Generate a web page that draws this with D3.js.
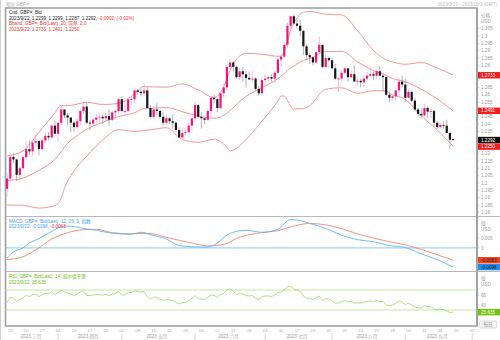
<!DOCTYPE html>
<html><head><meta charset="utf-8">
<script src="https://cdn.jsdelivr.net/npm/d3@7"></script>
<style>
body{margin:0;background:#fff;}
svg{display:block;font-family:"Liberation Sans","Noto Sans CJK SC",sans-serif;}
</style></head><body>
<svg id="chart" width="500" height="340"></svg>
<script>
// ---- daily GBP= bid candles ----
const dates = [
 "2023-03-10","2023-03-13","2023-03-14","2023-03-15","2023-03-16","2023-03-17","2023-03-20","2023-03-21","2023-03-22","2023-03-23","2023-03-24","2023-03-27","2023-03-28","2023-03-29","2023-03-30","2023-03-31",
 "2023-04-03","2023-04-04","2023-04-05","2023-04-06","2023-04-07","2023-04-10","2023-04-11","2023-04-12","2023-04-13","2023-04-14","2023-04-17","2023-04-18","2023-04-19","2023-04-20","2023-04-21","2023-04-24","2023-04-25","2023-04-26","2023-04-27","2023-04-28",
 "2023-05-01","2023-05-02","2023-05-03","2023-05-04","2023-05-05","2023-05-08","2023-05-09","2023-05-10","2023-05-11","2023-05-12","2023-05-15","2023-05-16","2023-05-17","2023-05-18","2023-05-19","2023-05-22","2023-05-23","2023-05-24","2023-05-25","2023-05-26","2023-05-29","2023-05-30","2023-05-31",
 "2023-06-01","2023-06-02","2023-06-05","2023-06-06","2023-06-07","2023-06-08","2023-06-09","2023-06-12","2023-06-13","2023-06-14","2023-06-15","2023-06-16","2023-06-19","2023-06-20","2023-06-21","2023-06-22","2023-06-23","2023-06-26","2023-06-27","2023-06-28","2023-06-29","2023-06-30",
 "2023-07-03","2023-07-04","2023-07-05","2023-07-06","2023-07-07","2023-07-10","2023-07-11","2023-07-12","2023-07-13","2023-07-14","2023-07-17","2023-07-18","2023-07-19","2023-07-20","2023-07-21","2023-07-24","2023-07-25","2023-07-26","2023-07-27","2023-07-28","2023-07-31",
 "2023-08-01","2023-08-02","2023-08-03","2023-08-04","2023-08-07","2023-08-08","2023-08-09","2023-08-10","2023-08-11","2023-08-14","2023-08-15","2023-08-16","2023-08-17","2023-08-18","2023-08-21","2023-08-22","2023-08-23","2023-08-24","2023-08-25","2023-08-28","2023-08-29","2023-08-30","2023-08-31",
 "2023-09-01","2023-09-04","2023-09-05","2023-09-06","2023-09-07","2023-09-08","2023-09-11","2023-09-12","2023-09-13","2023-09-14","2023-09-15","2023-09-18","2023-09-19","2023-09-20","2023-09-21","2023-09-22"
];
const opens = [
 1.1960,1.2030,1.2177,1.2160,1.2055,1.2100,1.2175,1.2230,1.2215,1.2275,1.2285,1.2230,1.2290,1.2320,1.2310,1.2390,
 1.2335,1.2410,1.2500,1.2460,1.2445,1.2410,1.2380,1.2420,1.2490,1.2520,1.2410,1.2405,1.2430,1.2445,1.2450,1.2440,1.2455,1.2430,1.2480,1.2490,
 1.2570,1.2490,1.2490,1.2570,1.2570,1.2630,1.2620,1.2610,1.2630,1.2510,1.2450,1.2500,1.2490,1.2450,1.2410,1.2440,1.2420,1.2410,1.2360,1.2310,1.2340,1.2345,1.2390,
 1.2440,1.2530,1.2450,1.2440,1.2430,1.2490,1.2580,1.2570,1.2510,1.2610,1.2650,1.2790,1.2820,1.2790,1.2720,1.2760,1.2740,1.2715,1.2705,1.2710,1.2640,1.2610,
 1.2700,1.2710,1.2720,1.2710,1.2750,1.2840,1.2860,1.2940,1.3070,1.3135,1.3085,1.3070,1.3035,1.2930,1.2870,1.2855,1.2820,1.2890,1.2940,1.2790,1.2850,
 1.2835,1.2780,1.2710,1.2710,1.2750,1.2780,1.2720,1.2740,1.2690,1.2695,1.2685,1.2710,1.2730,1.2740,1.2730,1.2760,1.2730,1.2720,1.2600,1.2580,1.2590,1.2630,1.2690,
 1.2670,1.2580,1.2620,1.2560,1.2500,1.2470,1.2460,1.2510,1.2485,1.2490,1.2410,1.2380,1.2395,1.2390,1.2340,1.2299
];
const highs = [
 1.2070,1.2204,1.2203,1.2165,1.2114,1.2180,1.2285,1.2288,1.2290,1.2343,1.2295,1.2300,1.2345,1.2345,1.2400,1.2425,
 1.2410,1.2525,1.2500,1.2475,1.2450,1.2420,1.2440,1.2500,1.2545,1.2545,1.2430,1.2450,1.2470,1.2475,1.2470,1.2480,1.2500,1.2490,1.2500,1.2585,
 1.2590,1.2560,1.2580,1.2590,1.2640,1.2640,1.2640,1.2680,1.2650,1.2530,1.2520,1.2545,1.2500,1.2480,1.2470,1.2450,1.2470,1.2420,1.2380,1.2370,1.2380,1.2410,1.2440,
 1.2545,1.2540,1.2480,1.2450,1.2500,1.2590,1.2600,1.2580,1.2620,1.2680,1.2800,1.2848,1.2830,1.2800,1.2780,1.2790,1.2760,1.2760,1.2760,1.2720,1.2660,1.2710,
 1.2740,1.2730,1.2740,1.2760,1.2850,1.2870,1.2960,1.3090,1.3140,1.3144,1.3110,1.3110,1.3040,1.2940,1.2880,1.2860,1.2900,1.2995,1.2940,1.2880,1.2860,
 1.2850,1.2810,1.2720,1.2770,1.2790,1.2780,1.2770,1.2800,1.2720,1.2710,1.2730,1.2760,1.2790,1.2760,1.2770,1.2790,1.2740,1.2730,1.2620,1.2600,1.2640,1.2710,1.2730,
 1.2710,1.2640,1.2630,1.2580,1.2510,1.2510,1.2540,1.2520,1.2510,1.2500,1.2420,1.2410,1.2420,1.2430,1.2350,1.2299
];
const lows = [
 1.1906,1.2010,1.2135,1.2011,1.2010,1.2090,1.2160,1.2190,1.2190,1.2245,1.2190,1.2220,1.2270,1.2290,1.2300,1.2330,
 1.2275,1.2395,1.2440,1.2395,1.2345,1.2345,1.2360,1.2390,1.2470,1.2400,1.2360,1.2390,1.2390,1.2410,1.2400,1.2420,1.2390,1.2420,1.2440,1.2470,
 1.2480,1.2460,1.2480,1.2530,1.2540,1.2600,1.2590,1.2590,1.2510,1.2440,1.2440,1.2460,1.2440,1.2390,1.2390,1.2400,1.2370,1.2350,1.2308,1.2300,1.2320,1.2340,1.2350,
 1.2420,1.2440,1.2370,1.2400,1.2420,1.2450,1.2540,1.2480,1.2500,1.2580,1.2630,1.2770,1.2760,1.2710,1.2700,1.2690,1.2650,1.2700,1.2690,1.2630,1.2590,1.2610,
 1.2660,1.2690,1.2690,1.2680,1.2740,1.2790,1.2850,1.2920,1.3050,1.3080,1.3050,1.3000,1.2870,1.2840,1.2810,1.2800,1.2810,1.2880,1.2780,1.2780,1.2820,
 1.2780,1.2700,1.2620,1.2690,1.2740,1.2690,1.2710,1.2690,1.2660,1.2650,1.2650,1.2700,1.2720,1.2700,1.2710,1.2730,1.2620,1.2590,1.2550,1.2560,1.2560,1.2590,1.2650,
 1.2550,1.2580,1.2550,1.2490,1.2450,1.2440,1.2450,1.2440,1.2440,1.2380,1.2370,1.2370,1.2370,1.2340,1.2230,1.2287
];
const closes = [
 1.2030,1.2177,1.2160,1.2055,1.2100,1.2175,1.2230,1.2215,1.2275,1.2285,1.2230,1.2290,1.2320,1.2310,1.2390,1.2335,
 1.2410,1.2500,1.2460,1.2445,1.2410,1.2380,1.2420,1.2490,1.2520,1.2410,1.2405,1.2430,1.2445,1.2450,1.2440,1.2455,1.2430,1.2480,1.2490,1.2570,
 1.2490,1.2490,1.2570,1.2570,1.2630,1.2620,1.2610,1.2630,1.2510,1.2450,1.2500,1.2490,1.2450,1.2410,1.2440,1.2420,1.2410,1.2360,1.2310,1.2340,1.2345,1.2390,1.2440,
 1.2530,1.2450,1.2440,1.2430,1.2490,1.2580,1.2570,1.2510,1.2610,1.2650,1.2790,1.2820,1.2790,1.2720,1.2760,1.2740,1.2715,1.2705,1.2710,1.2640,1.2610,1.2700,
 1.2710,1.2720,1.2710,1.2750,1.2840,1.2860,1.2940,1.3070,1.3135,1.3085,1.3070,1.3035,1.2930,1.2870,1.2855,1.2820,1.2890,1.2940,1.2790,1.2850,1.2835,
 1.2780,1.2710,1.2710,1.2750,1.2780,1.2720,1.2740,1.2690,1.2695,1.2685,1.2710,1.2730,1.2740,1.2730,1.2760,1.2730,1.2720,1.2600,1.2580,1.2590,1.2630,1.2690,1.2670,
 1.2580,1.2620,1.2560,1.2500,1.2470,1.2460,1.2510,1.2485,1.2490,1.2410,1.2380,1.2395,1.2390,1.2340,1.2294,1.2292
];

// ---- Bollinger bands (20, 2.0) ----
const bandDates = ["2023-03-10","2023-03-17","2023-03-24","2023-03-31","2023-04-04","2023-04-05","2023-04-06","2023-04-07","2023-04-14","2023-04-21","2023-04-28","2023-05-05","2023-05-10","2023-05-12","2023-05-19","2023-05-26","2023-06-02","2023-06-09","2023-06-15","2023-06-16","2023-06-23","2023-06-30","2023-07-07","2023-07-10","2023-07-11","2023-07-12","2023-07-13","2023-07-14","2023-07-19","2023-07-21","2023-07-28","2023-08-04","2023-08-11","2023-08-18","2023-08-24","2023-08-25","2023-09-01","2023-09-08","2023-09-15","2023-09-22"];
const bandUpper  = [1.2184,1.2218,1.2345,1.2476,1.2528,1.2525,1.2527,1.2528,1.2549,1.2534,1.2541,1.2606,1.2657,1.2654,1.2652,1.2674,1.2633,1.2582,1.2707,1.2769,1.2882,1.2876,1.2862,1.2863,1.2897,1.2968,1.3042,1.3087,1.3162,1.3167,1.3149,1.3144,1.3036,1.2902,1.2838,1.2830,1.2808,1.2819,1.2783,1.2733];
const bandMiddle = [1.2017,1.2033,1.2087,1.2161,1.2213,1.2245,1.2270,1.2289,1.2366,1.2413,1.2452,1.2478,1.2507,1.2508,1.2514,1.2485,1.2455,1.2440,1.2475,1.2494,1.2589,1.2649,1.2710,1.2728,1.2744,1.2765,1.2782,1.2796,1.2834,1.2847,1.2894,1.2896,1.2823,1.2765,1.2733,1.2720,1.2689,1.2638,1.2572,1.2491];
const bandLower  = [1.1850,1.1848,1.1829,1.1846,1.1898,1.1964,1.2013,1.2050,1.2183,1.2292,1.2363,1.2350,1.2357,1.2362,1.2376,1.2296,1.2277,1.2298,1.2243,1.2219,1.2295,1.2421,1.2558,1.2592,1.2591,1.2562,1.2522,1.2504,1.2506,1.2527,1.2638,1.2648,1.2610,1.2628,1.2628,1.2610,1.2569,1.2457,1.2361,1.2250];

// ---- MACD (12, 26, 9) ----
const macdDates = ["2023-03-10","2023-03-14","2023-03-17","2023-03-21","2023-03-24","2023-03-29","2023-04-04","2023-04-06","2023-04-13","2023-04-19","2023-04-26","2023-05-04","2023-05-09","2023-05-12","2023-05-19","2023-05-25","2023-06-01","2023-06-06","2023-06-09","2023-06-16","2023-06-23","2023-06-30","2023-07-07","2023-07-13","2023-07-18","2023-07-21","2023-07-28","2023-08-04","2023-08-11","2023-08-18","2023-08-25","2023-09-01","2023-09-08","2023-09-15","2023-09-22"];
const macdLine = [-0.0050,-0.0020,0.0000,0.0025,0.0048,0.0075,0.0108,0.0112,0.0100,0.0090,0.0075,0.0070,0.0080,0.0068,0.0045,0.0012,0.0005,0.0004,0.0015,0.0075,0.0090,0.0080,0.0095,0.0145,0.0140,0.0125,0.0100,0.0065,0.0042,0.0032,0.0012,0.0002,-0.0030,-0.0060,-0.0098];
const signalDates = ["2023-03-10","2023-03-17","2023-03-23","2023-03-30","2023-04-06","2023-04-13","2023-04-19","2023-04-26","2023-05-04","2023-05-11","2023-05-22","2023-05-31","2023-06-07","2023-06-14","2023-06-21","2023-06-30","2023-07-07","2023-07-14","2023-07-21","2023-07-28","2023-08-04","2023-08-11","2023-08-18","2023-08-25","2023-09-01","2023-09-08","2023-09-15","2023-09-22"];
const signalLine = [-0.0060,-0.0045,-0.0010,0.0045,0.0078,0.0093,0.0095,0.0078,0.0072,0.0075,0.0050,0.0025,0.0010,0.0018,0.0055,0.0078,0.0088,0.0112,0.0125,0.0118,0.0098,0.0072,0.0050,0.0032,0.0015,-0.0008,-0.0035,-0.0063];

// ---- RSI (14, Wilder), one value per session ----
const rsiValues = [
 45,55,54,47,51,55,59,57,61,62,57,61,63,62,66,61,
 65,70,66,64,62,59,62,66,68,59,59,60,61,61,60,61,59,62,63,67,
 60,60,65,65,68,67,66,67,57,52,56,55,52,49,51,50,49,45,42,45,45,49,53,
 59,52,52,51,55,60,59,55,61,63,70,72,68,61,63,62,59,58,59,53,51,57,
 58,58,57,60,65,66,70,76,78,72,70,67,58,54,53,51,55,58,49,53,52,
 48,44,44,47,49,46,47,44,44,44,46,47,48,47,49,47,47,40,39,40,43,48,46,
 41,44,40,36,34,34,39,37,37,32,30,31,31,28,25,25.635
];

// ---- axis ticks ----
const priceTickLabels = ["1.18","1.185","1.19","1.195","1.2","1.205","1.21","1.215","1.22","1.225","1.23","1.235","1.24","1.245","1.25","1.255","1.26","1.265","1.27","1.275","1.28","1.285","1.29","1.295","1.3","1.305"];
const macdTickLabels = ["0.005","0","-0.005"];
const rsiTickLabels = ["60","40","20"];
const monthNames = ["三月","四月","五月","六月","七月","八月","九月","十月"];

// ---- layout ----
const W = 500, H = 340;
const L = 5.5, R = 477;
const P = {top: 9, bot: 216};
const M = {top: 217, bot: 271};
const S = {top: 272, bot: 326};
const FS = 4.6;

const svg = d3.select("#chart");
const parse = d3.utcParse("%Y-%m-%d");
const fmt = d3.utcFormat("%Y-%m-%d");

// trading sessions on the time axis (weekdays through 3 Oct)
const axisDays = d3.utcDay.range(parse("2023-03-10"), parse("2023-10-04"))
  .filter(d => d.getUTCDay() > 0 && d.getUTCDay() < 6).map(fmt);
const x = d3.scaleBand().domain(axisDays).range([L, R]);
const cx = d => x(d) + x.bandwidth() / 2;

const y = d3.scaleLinear().domain([1.1775, 1.3184]).range([P.bot, P.top]);
const ym = d3.scaleLinear().domain([-0.0118, 0.0158]).range([M.bot, M.top]);
const yr = d3.scaleLinear().domain([-2, 106]).range([S.bot, S.top]);

// frame
const frame = svg.append("g");
frame.append("rect").attr("x", L).attr("y", 8).attr("width", R - L).attr("height", S.bot - 8)
  .attr("fill", "none").attr("stroke", "#9c9c9c").attr("stroke-width", 1.5);
[P.bot + 0.5, M.bot + 0.5].forEach(v =>
  frame.append("line").attr("x1", L).attr("x2", W).attr("y1", v).attr("y2", v)
    .attr("stroke", "#b8b8b8").attr("stroke-width", 1));
svg.append("line").attr("x1", 0.5).attr("x2", 0.5).attr("y1", 0).attr("y2", H).attr("stroke", "#cfcfcf");

svg.append("text").attr("x", 6).attr("y", 5.5).attr("font-size", FS).attr("fill", "#aaa").text("相关 GBP=");
svg.append("text").attr("x", 497).attr("y", 5.5).attr("font-size", FS).attr("fill", "#bbb")
  .attr("text-anchor", "end").text("2023/3/10 - 2023/10/3 (GMT)");

// ---- Bollinger bands ----
const bandLine = vals => d3.line().curve(d3.curveMonotoneX)
  .x((d, i) => cx(bandDates[i])).y((d, i) => y(vals[i]))(vals);
[bandUpper, bandMiddle, bandLower].forEach(v =>
  svg.append("path").attr("d", bandLine(v)).attr("fill", "none")
    .attr("stroke", "#f28a8a").attr("stroke-width", 0.9));

// ---- candles ----
const UP = "#f2137e", DOWN = "#161616";
const candles = svg.append("g");
dates.forEach((d, i) => {
  const o = opens[i], h = highs[i], l = lows[i], c = closes[i];
  const up = c >= o;
  const xc = cx(d);
  candles.append("line").attr("x1", xc).attr("x2", xc).attr("y1", y(h)).attr("y2", y(l))
    .attr("stroke", up ? "#f5a9c9" : "#9c9c9c").attr("stroke-width", 0.8);
  const top = y(Math.max(o, c)), bh = Math.max(0.8, Math.abs(y(o) - y(c)));
  candles.append("rect").attr("x", xc - 1.1).attr("y", top).attr("width", 2.2).attr("height", bh)
    .attr("fill", up ? UP : DOWN);
});

// ---- MACD ----
svg.append("line").attr("x1", L).attr("x2", R).attr("y1", ym(0)).attr("y2", ym(0))
  .attr("stroke", "#86c8f2").attr("stroke-width", 1);
const seriesLine = (ds, vals, sc) => d3.line().curve(d3.curveMonotoneX)
  .x((d, i) => cx(ds[i])).y((d, i) => sc(vals[i]))(vals);
svg.append("path").attr("d", seriesLine(signalDates, signalLine, ym)).attr("fill", "none").attr("stroke", "#f3836f").attr("stroke-width", 0.9);
svg.append("path").attr("d", seriesLine(macdDates, macdLine, ym)).attr("fill", "none").attr("stroke", "#5bb5ef").attr("stroke-width", 0.9);

// ---- RSI ----
[70, 30].forEach(v => svg.append("line").attr("x1", L).attr("x2", R).attr("y1", yr(v)).attr("y2", yr(v))
  .attr("stroke", "#c6e7a4").attr("stroke-width", 1));
svg.append("path").attr("d", d3.line().x((d, i) => cx(dates[i])).y(d => yr(d))(rsiValues))
  .attr("fill", "none").attr("stroke", "#95cf5a").attr("stroke-width", 0.7);

// ---- legends ----
function legend(yy, parts) {
  const t = svg.append("text").attr("x", 9).attr("y", yy).attr("font-size", FS);
  parts.forEach(([s, col]) => t.append("tspan").attr("fill", col).text(s));
}
const last = dates.length - 1;
const chg = closes[last] - closes[last - 1];
legend(14, [["Cnd, GBP=, Bid", "#222"]]);
legend(19.5, [[`2023/9/22, ${opens[last].toFixed(4)}, ${highs[last].toFixed(4)}, ${lows[last].toFixed(4)}, ${closes[last].toFixed(4)}, `, "#222"],
  [`${chg.toFixed(4)}, (${(chg / closes[last - 1] * 100).toFixed(2)}%)`, "#f03030"]]);
legend(25, [["Bband, GBP=, Bid(Last), 20, 简单, 2.0", "#f03030"]]);
legend(30.5, [[`2023/9/22, ${bandUpper.at(-1).toFixed(4)}, ${bandMiddle.at(-1).toFixed(4)}, ${bandLower.at(-1).toFixed(4)}`, "#f03030"]]);
legend(222.5, [["MACD, GBP=, Bid(Last), 12, 26, 9, 指数", "#3fa3e6"]]);
legend(228, [[`2023/9/22, ${macdLine.at(-1).toFixed(4)}, `, "#3fa3e6"], [signalLine.at(-1).toFixed(4), "#f03030"]]);
legend(278, [["RSI, GBP=, Bid(Last), 14, 威尔德平滑", "#6dbb20"]]);
legend(283.5, [[`2023/9/22, ${rsiValues.at(-1).toFixed(3)}`, "#6dbb20"]]);

// ---- right value axis ----
const ax = svg.append("g");
function axisLabels(scale, labels, boxes, header, top) {
  ax.append("text").attr("x", 481).attr("y", top + 8).attr("font-size", FS).attr("fill", "#999").text(header);
  ax.append("text").attr("x", 481).attr("y", top + 14).attr("font-size", FS).attr("fill", "#999").text("USD");
  labels.forEach(s => {
    const yy = scale(+s);
    ax.append("line").attr("x1", R).attr("x2", R + 2).attr("y1", yy).attr("y2", yy).attr("stroke", "#999").attr("stroke-width", 0.6);
    if (boxes.some(b => Math.abs(b.y - yy) < 5.5) || yy < top + 17) return;
    ax.append("text").attr("x", 481).attr("y", yy + 1.6).attr("font-size", FS).attr("fill", "#999").text(s);
  });
  boxes.forEach(b => {
    ax.append("rect").attr("x", R + 1).attr("y", b.y - 3.2).attr("width", 22).attr("height", 6.4).attr("fill", b.bg);
    ax.append("text").attr("x", 481).attr("y", b.y + 1.6).attr("font-size", FS).attr("fill", b.fg).text(b.t);
  });
}
function spread(bs) {
  bs.sort((a, b) => a.y - b.y);
  for (let i = 1; i < bs.length; i++) if (bs[i].y - bs[i - 1].y < 6.6) bs[i].y = bs[i - 1].y + 6.6;
  return bs;
}
axisLabels(y, priceTickLabels, spread([
  {y: y(bandUpper.at(-1)), t: bandUpper.at(-1).toFixed(4), bg: "#f21c1c", fg: "#fff"},
  {y: y(bandMiddle.at(-1)), t: bandMiddle.at(-1).toFixed(4), bg: "#f21c1c", fg: "#fff"},
  {y: y(closes[last]), t: closes[last].toFixed(4), bg: "#111", fg: "#fff"},
  {y: y(bandLower.at(-1)), t: bandLower.at(-1).toFixed(4), bg: "#f21c1c", fg: "#fff"}
]), "价格", P.top);
axisLabels(ym, macdTickLabels, spread([
  {y: ym(signalLine.at(-1)), t: signalLine.at(-1).toFixed(4), bg: "#f2401c", fg: "#222"},
  {y: ym(macdLine.at(-1)), t: macdLine.at(-1).toFixed(4), bg: "#1e8ff0", fg: "#111"}
]), "值", M.top);
axisLabels(yr, rsiTickLabels, [
  {y: yr(rsiValues.at(-1)), t: rsiValues.at(-1).toFixed(3), bg: "#72c20e", fg: "#fff"}
], "值", S.top);
svg.append("line").attr("x1", R).attr("x2", R).attr("y1", 8).attr("y2", S.bot).attr("stroke", "#9c9c9c").attr("stroke-width", 1.5);
// interval tag in the corner under the value axis
ax.append("rect").attr("x", 479.5).attr("y", 321).attr("width", 17).attr("height", 7).attr("rx", 1)
  .attr("fill", "#f4f4f4").attr("stroke", "#c8c8c8").attr("stroke-width", 0.6);
ax.append("text").attr("x", 488).attr("y", 326.3).attr("font-size", FS).attr("fill", "#888")
  .attr("text-anchor", "middle").text("每日");

// ---- time axis ----
const xa = svg.append("g");
axisDays.forEach((d, i) => {
  const dt = parse(d);
  const prev = i > 0 ? parse(axisDays[i - 1]) : null;
  if (prev && dt.getUTCDay() < prev.getUTCDay()) {
    xa.append("text").attr("x", cx(d)).attr("y", 331.5).attr("font-size", 4.2).attr("fill", "#aaa")
      .attr("text-anchor", "middle").text(d3.utcFormat("%d")(dt));
  }
  if (prev && dt.getUTCMonth() !== prev.getUTCMonth()) {
    xa.append("line").attr("x1", cx(d)).attr("x2", cx(d)).attr("y1", 333.5).attr("y2", 340).attr("stroke", "#bbb").attr("stroke-width", 0.6);
  }
});
const months = d3.groups(axisDays, d => d.slice(0, 7));
months.forEach(([m, ds], k) => {
  if (ds.length < 5) return;
  const mid = (cx(ds[0]) + cx(ds[ds.length - 1])) / 2;
  xa.append("text").attr("x", mid).attr("y", 338).attr("font-size", FS).attr("fill", "#999")
    .attr("text-anchor", "middle").text(`2023 ${monthNames[k]}`);
});
</script>
</body></html>
